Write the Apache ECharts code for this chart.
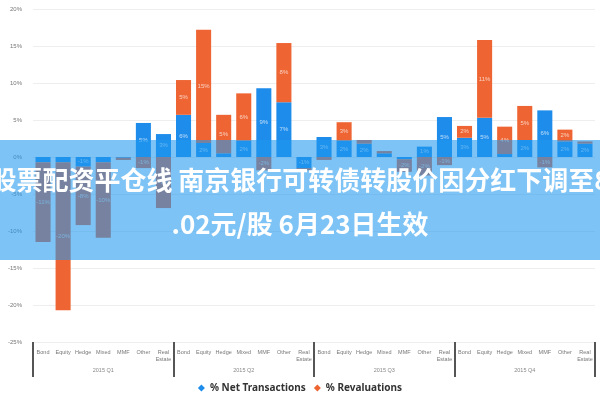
<!DOCTYPE html>
<html>
<head>
<meta charset="utf-8">
<script src="https://cdn.jsdelivr.net/npm/echarts@6/dist/echarts.min.js"></script>
<style>html,body{margin:0;padding:0;background:#fff}#c{width:600px;height:400px}</style>
</head>
<body>
<div id="c"></div>
<script>
const fundTypes = ['Bond','Equity','Hedge','Mixed','MMF','Other','Real\nEstate'];
const groups = ['2015 Q1','2015 Q2','2015 Q3','2015 Q4'];
const categories = groups.flatMap(() => fundTypes);
const netTransactions = [-0.7,-0.7,-1.3,-0.7,-0.1,4.6,3.1, 5.7,1.9,0.5,2.2,9.3,7.4,-1.5, 2.7,2.2,1.8,0.5,-0.3,1.4,5.4, 2.6,5.3,0.4,2.3,6.3,2.1,1.8];
const revaluations = [-10.8,-20,-7.9,-10.2,-0.3,-1.5,-6.9, 4.7,15.3,5.2,6.4,-1.8,8.0,-0.3, -0.4,2.5,0.5,0.3,-1.7,-2.5,-1.1, 1.6,10.5,3.7,4.6,-1.4,1.6,0.3];
const seriesNames = ['% Net Transactions','% Revaluations'];
const bannerLines = ['股票配资平仓线 南京银行可转债转股价因分红下调至8', '.02元/股 6月23日生效'];

const chart = echarts.init(document.getElementById('c'));
const lbl = {
  show: true, position: 'inside', fontSize: 6, color: 'rgba(255,255,255,0.7)',
  formatter: p => Math.abs(p.value) >= 1 ? Math.round(p.value) + '%' : ''
};
chart.setOption({
  animation: false,
  grid: { left: 33, right: 5, top: 9, bottom: 58 },
  legend: {
    bottom: 2, left: 'center', icon: 'diamond', itemWidth: 7, itemHeight: 7, itemGap: 8,
    textStyle: { fontSize: 10, fontWeight: 'bold', color: '#333', fontFamily: 'Noto Sans' },
    data: seriesNames
  },
  xAxis: [
    { type: 'category', data: categories, position: 'bottom',
      axisLine: { show: false, onZero: false }, axisTick: { show: false },
      axisLabel: { interval: 0, fontSize: 5.5, color: '#777', margin: 7, lineHeight: 7 } },
    { type: 'category', data: groups, position: 'bottom',
      axisLine: { show: false, onZero: false },
      axisTick: { show: true, length: 35, interval: 0, lineStyle: { color: '#555', width: 2 } },
      axisLabel: { interval: 0, fontSize: 5.5, color: '#888', margin: 25 } }
  ],
  yAxis: {
    type: 'value', min: -25, max: 20, interval: 5,
    axisLabel: { formatter: '{value}%', fontSize: 6, color: '#777', margin: 11 },
    axisLine: { show: false }, axisTick: { show: false },
    splitLine: { lineStyle: { color: '#eeeeee' } }
  },
  series: [
    { name: seriesNames[0], type: 'bar', stack: 's', data: netTransactions, barCategoryGap: '25%',
      itemStyle: { color: '#1E8CEB' }, label: lbl },
    { name: seriesNames[1], type: 'bar', stack: 's', data: revaluations,
      itemStyle: { color: '#EE6432' }, label: lbl }
  ],
  graphic: [
    { type: 'rect', z: 100, shape: { x: 0, y: 140, width: 600, height: 120 },
      style: { fill: 'rgba(31,152,238,0.58)' } },
    { type: 'text', z: 101, x: 300, y: 180,
      style: { text: bannerLines[0], fill: '#fff', font: 'bold 26px "Noto Sans CJK SC"', align: 'center', verticalAlign: 'middle' } },
    { type: 'text', z: 101, x: 300, y: 224,
      style: { text: bannerLines[1], fill: '#fff', font: 'bold 26px "Noto Sans CJK SC"', align: 'center', verticalAlign: 'middle' } }
  ]
});
</script>
</body>
</html>
